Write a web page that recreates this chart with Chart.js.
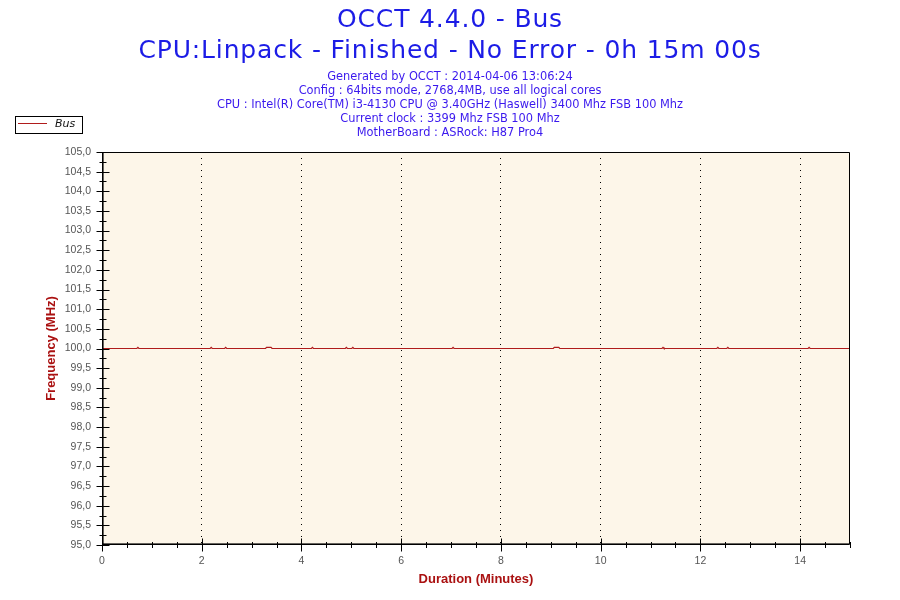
<!DOCTYPE html>
<html>
<head>
<meta charset="utf-8">
<script src="https://cdn.jsdelivr.net/npm/chart.js@4.4.0/dist/chart.umd.min.js"></script>
<style>
html,body{margin:0;padding:0;background:#ffffff;}
#wrap{width:900px;height:600px;}
</style>
</head>
<body>
<div id="wrap"><canvas id="c" width="900" height="600"></canvas></div>
<script>
// ---- chart texts ----
const titleLines = ["OCCT 4.4.0 - Bus", "CPU:Linpack - Finished - No Error - 0h 15m 00s"];
const subtitleLines = [
  "Generated by OCCT : 2014-04-06 13:06:24",
  "Config : 64bits mode, 2768,4MB, use all logical cores",
  "CPU : Intel(R) Core(TM) i3-4130 CPU @ 3.40GHz (Haswell) 3400 Mhz FSB 100 Mhz",
  "Current clock : 3399 Mhz FSB 100 Mhz",
  "MotherBoard : ASRock: H87 Pro4"
];
const seriesName = "Bus";
const xAxisTitle = "Duration (Minutes)";
const yAxisTitle = "Frequency (MHz)";

// ---- data (minutes, MHz) ----
const times = [0, 0.70, 0.72, 0.74, 2.17, 2.19, 2.21, 2.46, 2.48, 2.50, 3.28, 3.30, 3.39, 3.41,
  4.20, 4.22, 4.24, 4.88, 4.90, 4.92, 5.01, 5.03, 5.05, 7.02, 7.04, 7.06, 9.05, 9.07, 9.16, 9.18,
  11.23, 11.25, 11.27, 12.33, 12.35, 12.37, 12.53, 12.55, 12.57, 14.16, 14.18, 14.20, 15];
const busMHz = [100.0, 100.0, 100.03, 100.0, 100.0, 100.03, 100.0, 100.0, 100.03, 100.0, 100.0, 100.03, 100.03, 100.0,
  100.0, 100.03, 100.0, 100.0, 100.03, 100.0, 100.0, 100.03, 100.0, 100.0, 100.03, 100.0, 100.0, 100.03, 100.03, 100.0,
  100.0, 100.03, 100.0, 100.0, 100.03, 100.0, 100.0, 100.03, 100.0, 100.0, 100.03, 100.0, 100.0];

// ---- tick labels ----
const xTickLabels = ["0", "2", "4", "6", "8", "10", "12", "14"];
const yTickLabels = ["95,0", "95,5", "96,0", "96,5", "97,0", "97,5", "98,0", "98,5", "99,0", "99,5",
  "100,0", "100,5", "101,0", "101,5", "102,0", "102,5", "103,0", "103,5", "104,0", "104,5", "105,0"];

const LINE_COLOR = "#b01c1c";
const AXIS_TITLE_COLOR = "#aa1111";
const PLOT_BG = "#fdf6e9";

const bgPlugin = {
  id: "bg",
  beforeDraw(chart) {
    const ctx = chart.ctx, a = chart.chartArea;
    ctx.save();
    ctx.fillStyle = "#ffffff";
    ctx.fillRect(0, 0, chart.width, chart.height);
    ctx.fillStyle = PLOT_BG;
    ctx.fillRect(a.left, a.top, a.right - a.left, a.bottom - a.top);
    ctx.restore();
    // wider letter spacing for the main title (mimics the original renderer)
    const tb = chart.titleBlock;
    if (tb && !tb._spaced) {
      const orig = tb.draw.bind(tb);
      tb.draw = function () {
        const c = chart.ctx;
        const prev = c.letterSpacing;
        c.letterSpacing = "0.85px";
        orig();
        c.letterSpacing = prev || "0px";
      };
      tb._spaced = true;
    }
  }
};

const framePlugin = {
  id: "frame",
  afterDatasetsDraw(chart) {
    const ctx = chart.ctx, a = chart.chartArea;
    const xs = chart.scales.x, ys = chart.scales.y;
    const L = Math.round(a.left) + 0.5, R = Math.round(a.right) - 0.5;
    const T = Math.round(a.top) + 0.5, B = Math.round(a.bottom) - 0.5;
    ctx.save();
    ctx.strokeStyle = "#000000";
    ctx.lineWidth = 1;
    ctx.beginPath();
    ctx.rect(L, T, R - L, B - T);
    ctx.stroke();
    ctx.beginPath();
    ctx.moveTo(L + 1, T); ctx.lineTo(L + 1, B);
    ctx.moveTo(L, B - 1); ctx.lineTo(R, B - 1);
    ctx.lineWidth = 0.6;
    ctx.stroke();
    ctx.lineWidth = 1;
    ctx.beginPath();
    xs.ticks.forEach(t => {
      const px = Math.round(xs.getPixelForValue(t.value)) + 0.5;
      const major = Math.abs(t.value / 2 - Math.round(t.value / 2)) < 1e-6;
      const h = major ? 6 : 2.5;
      ctx.moveTo(px, B - h); ctx.lineTo(px, B + h + 1);
    });
    ys.ticks.forEach(t => {
      const py = Math.round(ys.getPixelForValue(t.value)) + 0.5;
      const major = Math.abs(t.value * 2 - Math.round(t.value * 2)) < 1e-6;
      const w = major ? 6 : 3;
      ctx.moveTo(L - w, py); ctx.lineTo(L + w + 1, py);
    });
    ctx.stroke();
    ctx.restore();
  }
};

const legendPlugin = {
  id: "boxLegend",
  afterDraw(chart) {
    const ctx = chart.ctx;
    const ds = chart.data.datasets[0];
    ctx.save();
    ctx.fillStyle = "#ffffff";
    ctx.fillRect(15.5, 116.5, 67, 17);
    ctx.strokeStyle = "#000000";
    ctx.lineWidth = 1;
    ctx.strokeRect(15.5, 116.5, 67, 17);
    ctx.strokeStyle = ds.borderColor;
    ctx.beginPath();
    ctx.moveTo(18, 123.5); ctx.lineTo(47, 123.5);
    ctx.stroke();
    ctx.fillStyle = "#111111";
    ctx.font = "italic 11px 'DejaVu Sans'";
    ctx.textBaseline = "middle";
    ctx.fillText(ds.label, 55, 124);
    ctx.restore();
  }
};

const points = times.map((t, i) => ({ x: t, y: busMHz[i] }));

new Chart(document.getElementById("c"), {
  type: "line",
  data: {
    datasets: [{
      label: seriesName,
      data: points,
      borderColor: LINE_COLOR,
      borderWidth: 1.2,
      pointRadius: 0,
      tension: 0,
      fill: false
    }]
  },
  options: {
    responsive: false,
    animation: false,
    devicePixelRatio: 1,
    layout: { padding: 0 },
    plugins: {
      legend: { display: false },
      tooltip: { enabled: false },
      title: {
        display: true,
        text: titleLines,
        color: "#1c1ce6",
        font: { family: "'DejaVu Sans'", size: 25, weight: "normal", lineHeight: "31px" },
        padding: { top: 5, bottom: 0 }
      },
      subtitle: {
        display: true,
        text: subtitleLines,
        color: "#3a18ee",
        font: { family: "'DejaVu Sans'", size: 11.4, weight: "normal", lineHeight: "14px" },
        padding: { top: 3, bottom: 12 }
      }
    },
    scales: {
      x: {
        type: "linear",
        min: 0,
        max: 15,
        afterFit(s) { s.height = 55; },
        ticks: {
          stepSize: 0.5,
          autoSkip: false,
          maxRotation: 0,
          padding: 10,
          color: "#555555",
          font: { family: "'Liberation Sans'", size: 10.5 },
          callback(v) {
            const k = v / 2;
            return Math.abs(k - Math.round(k)) < 1e-6 && v < 15 ? xTickLabels[Math.round(k)] : "";
          }
        },
        grid: {
          drawTicks: false,
          tickLength: 0,
          lineWidth: 1,
          color(ctx) {
            const v = ctx.tick ? ctx.tick.value : -1;
            const even = Math.abs(v / 2 - Math.round(v / 2)) < 1e-6;
            return (even && v > 0 && v < 15) ? "#000000" : "rgba(0,0,0,0)";
          }
        },
        border: { display: false, dash: [1, 5] },
        title: {
          display: true,
          text: xAxisTitle,
          color: AXIS_TITLE_COLOR,
          font: { family: "'Liberation Sans'", size: 13, weight: "bold" },
          padding: { top: 0, bottom: 13 }
        }
      },
      y: {
        type: "linear",
        min: 95,
        max: 105,
        afterFit(s) { s.width = 102; },
        ticks: {
          stepSize: 0.25,
          autoSkip: false,
          padding: 11,
          color: "#555555",
          font: { family: "'Liberation Sans'", size: 10.5 },
          callback(v) {
            const k = (v - 95) * 2;
            return Math.abs(k - Math.round(k)) < 1e-6 ? yTickLabels[Math.round(k)] : "";
          }
        },
        grid: { display: false, drawTicks: false, tickLength: 0 },
        border: { display: false },
        title: {
          display: true,
          text: yAxisTitle,
          color: AXIS_TITLE_COLOR,
          font: { family: "'Liberation Sans'", size: 13, weight: "bold" },
          padding: { top: 44, bottom: 0 }
        }
      },
      yR: {
        type: "linear",
        position: "right",
        display: true,
        afterFit(s) { s.width = 50; },
        ticks: { display: false },
        grid: { display: false, drawTicks: false },
        border: { display: false }
      }
    }
  },
  plugins: [bgPlugin, framePlugin, legendPlugin]
});
</script>
</body>
</html>
